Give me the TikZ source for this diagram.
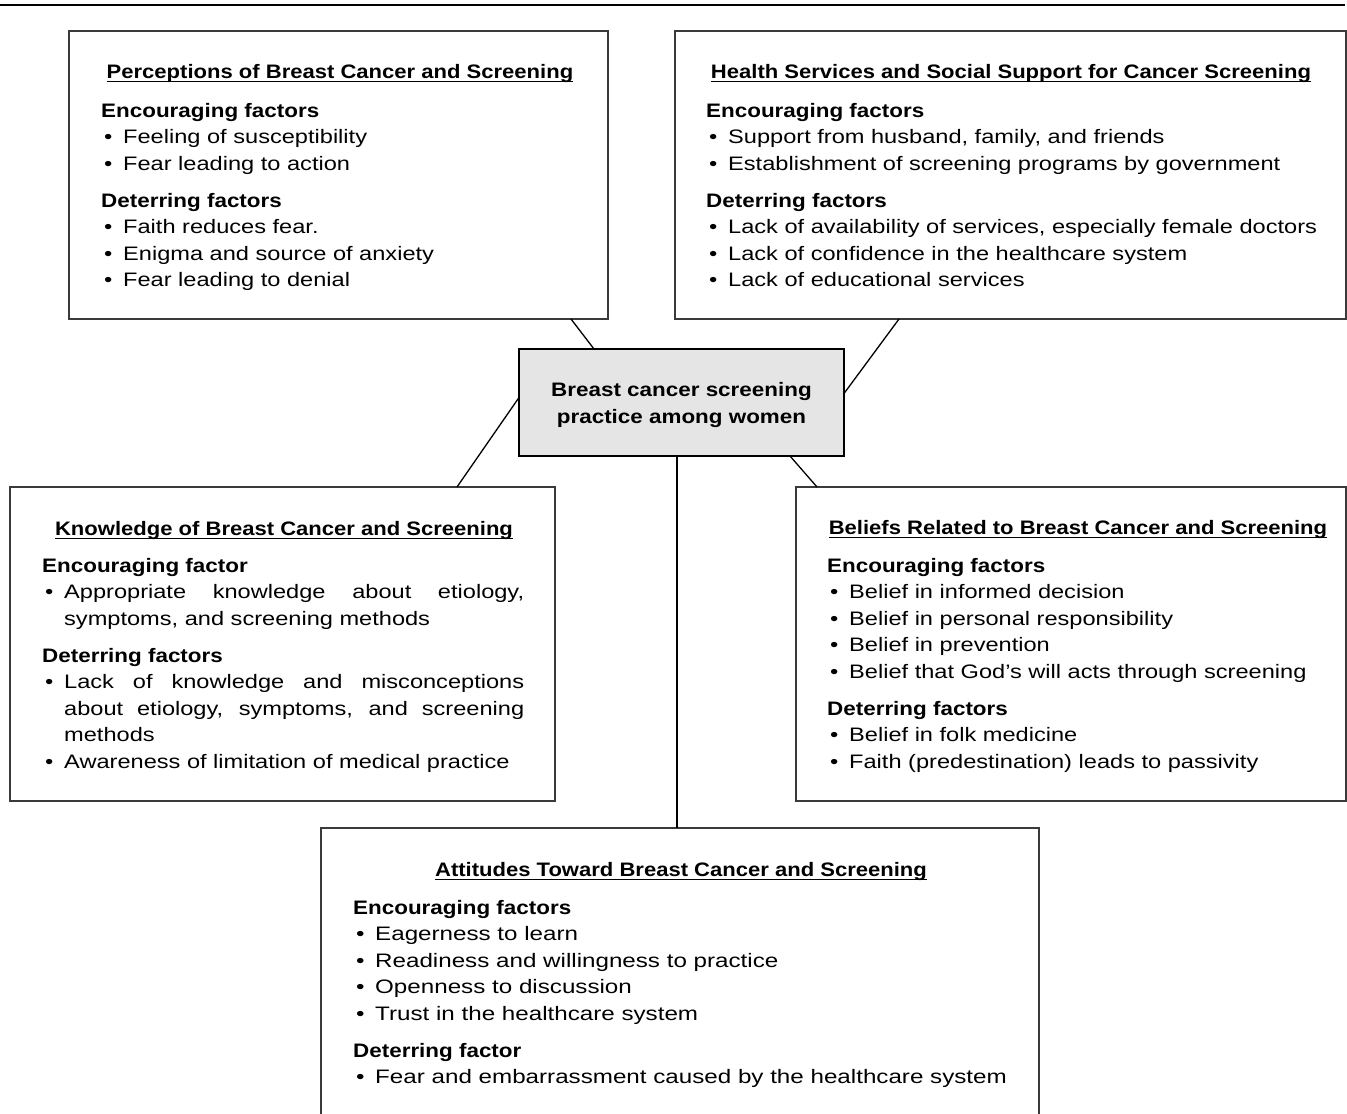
\documentclass[tikz,border=0pt]{standalone}
\usepackage{fontspec}
\setmainfont[FakeStretch=1.21]{Liberation Sans}
\newfontfamily\hdf[FakeStretch=1.15]{Liberation Sans}
\newfontfamily\tlf[FakeStretch=1.13]{Liberation Sans}
\newfontfamily\attf[FakeStretch=1.24]{Liberation Sans}
\definecolor{boxline}{HTML}{3A3A3A}
\definecolor{cfill}{HTML}{E5E5E5}
\newcommand\ttl[1]{\setbox0\hbox{\tlf\bfseries #1}\rlap{\rule[-3.6pt]{\wd0}{1.1pt}}\box0}
\newcommand\hdgf[1]{\noindent{\hdf\bfseries #1}\par}
\newcommand\hdg[1]{\par\vspace{10.5pt}\noindent{\hdf\bfseries #1}\par}
\newcommand\itm[1]{\noindent\hangindent=22pt\hangafter=1\makebox[22pt][l]{\hspace{3pt}\textbullet}#1\par}
\newcommand\fs{\fontsize{19.5pt}{26.5pt}\selectfont}
\begin{document}
\begin{tikzpicture}[x=1pt,y=-1pt,
  frame/.style={draw=boxline,line width=1.5pt,anchor=north west,inner sep=0pt,outer sep=0pt},
  cbox/.style={draw=black,fill=cfill,line width=1.5pt,inner sep=0pt,outer sep=0pt,
    minimum width=325pt,minimum height=107pt},
  ctext/.style={align=center,inner sep=0pt,
    font=\fontsize{19.5pt}{27pt}\selectfont\hdf\bfseries},
  title/.style={anchor=base,inner sep=0pt,font=\fs},
  body/.style={anchor=base west,inner sep=0pt,font=\fs},
  link/.style={draw=black,line width=1.3pt}]
\useasboundingbox (0,0) rectangle (1347,1114);
\fill[white] (0,0) rectangle (1347,1114);
\draw[line width=2.8pt] (0,5) -- (1345,5);

% boxes
\node[frame,minimum width=539pt,minimum height=288pt] (P) at (69,31) {};
\node[frame,minimum width=671pt,minimum height=288pt] (H) at (675,31) {};
\node[cbox] (C) at (681.5,402.5) {};
\node[ctext] (Ct) at (681.5,405) {Breast cancer screening\\practice among women};
\node[frame,minimum width=545pt,minimum height=314pt] (K) at (10,487) {};
\node[frame,minimum width=550pt,minimum height=314pt] (B) at (796,487) {};
\node[frame,minimum width=718pt,minimum height=320pt] (A) at (321,828) {};

% connectors
\draw[link] ([xshift=502pt]P.south west) -- ([xshift=75pt]C.north west);
\draw[link] ([xshift=224pt]H.south west) -- ([yshift=9pt]C.east);
\draw[link] ([yshift=5pt]C.west) -- ([xshift=447pt]K.north west);
\draw[link] ([xshift=271pt]C.south west) -- ([xshift=21pt]B.north west);
\draw[link] ([xshift=158pt]C.south west) -- ([xshift=356pt]A.north west);

% Perceptions
\node[title] (Pt) at (340,78) {\ttl{Perceptions of Breast Cancer and Screening}};
\node[body] (Pb) at (101,117) {\parbox[t]{500pt}{\fs\raggedright
  \hdgf{Encouraging factors}
  \itm{Feeling of susceptibility}
  \itm{Fear leading to action}
  \hdg{Deterring factors}
  \itm{Faith reduces fear.}
  \itm{Enigma and source of anxiety}
  \itm{Fear leading to denial}}};

% Health services
\node[title] (Ht) at (1011,78) {\ttl{Health Services and Social Support for Cancer Screening}};
\node[body] (Hb) at (706,117) {\parbox[t]{630pt}{\fs\raggedright
  \hdgf{Encouraging factors}
  \itm{Support from husband, family, and friends}
  \itm{Establishment of screening programs by government}
  \hdg{Deterring factors}
  \itm{Lack of availability of services, especially female doctors}
  \itm{Lack of confidence in the healthcare system}
  \itm{Lack of educational services}}};

% Knowledge
\node[title] (Kt) at (284,535) {\ttl{Knowledge of Breast Cancer and Screening}};
\node[body] (Kb) at (42,572) {\parbox[t]{484pt}{\fs\raggedright
  \hdgf{Encouraging factor}
  \itm{\makebox[460pt][s]{Appropriate knowledge about etiology,}\newline symptoms, and screening methods}
  \hdg{Deterring factors}
  \itm{\makebox[460pt][s]{Lack of knowledge and misconceptions}\newline\makebox[460pt][s]{about etiology, symptoms, and screening}\newline methods}
  \itm{Awareness of limitation of medical practice}}};

% Beliefs
\node[title] (Bt) at (1078,534) {\ttl{Beliefs Related to Breast Cancer and Screening}};
\node[body] (Bb) at (827,572) {\parbox[t]{510pt}{\fs\raggedright
  \hdgf{Encouraging factors}
  \itm{Belief in informed decision}
  \itm{Belief in personal responsibility}
  \itm{Belief in prevention}
  \itm{Belief that God’s will acts through screening}
  \hdg{Deterring factors}
  \itm{Belief in folk medicine}
  \itm{Faith (predestination) leads to passivity}}};

% Attitudes
\node[title] (At) at (681,876) {\ttl{Attitudes Toward Breast Cancer and Screening}};
\node[body] (Ab) at (353,914) {\parbox[t]{680pt}{\fs\attf\raggedright
  \hdgf{Encouraging factors}
  \itm{Eagerness to learn}
  \itm{Readiness and willingness to practice}
  \itm{Openness to discussion}
  \itm{Trust in the healthcare system}
  \hdg{Deterring factor}
  \itm{Fear and embarrassment caused by the healthcare system}}};
\end{tikzpicture}
\end{document}
